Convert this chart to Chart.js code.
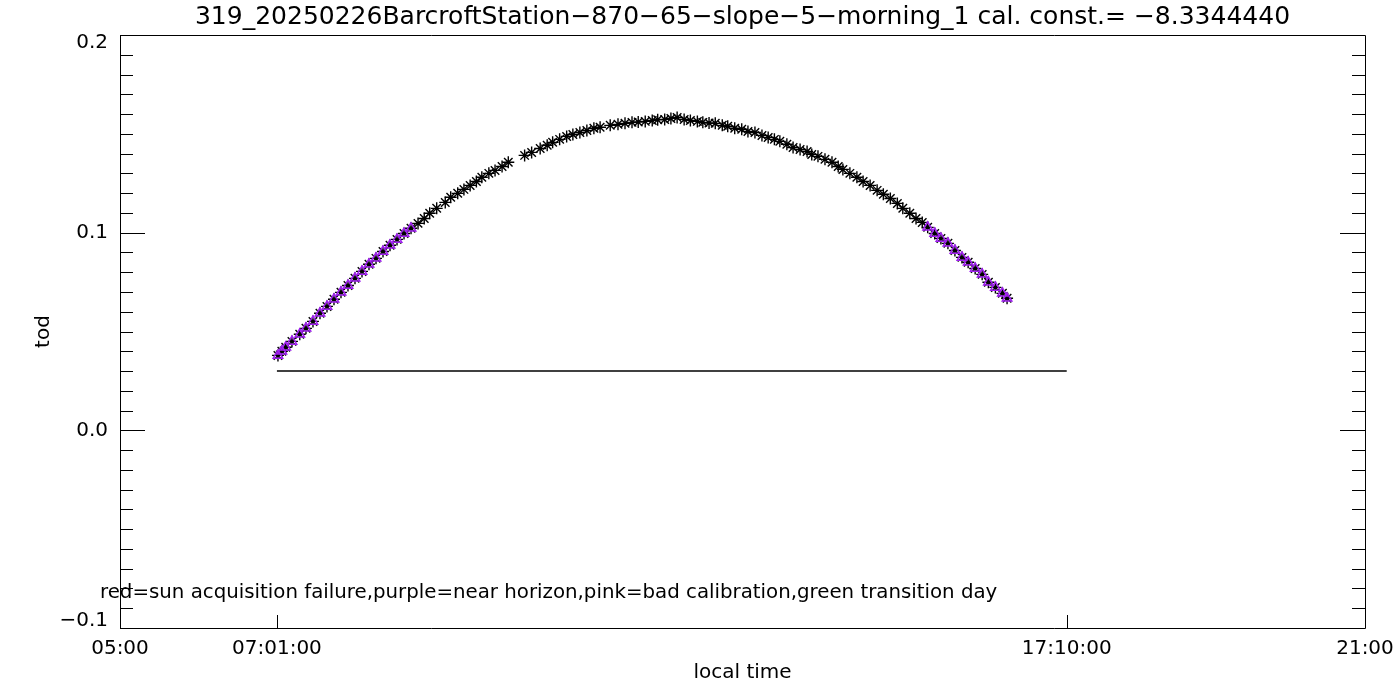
<!DOCTYPE html>
<html>
<head>
<meta charset="utf-8">
<script src="https://cdn.jsdelivr.net/npm/chart.js@4"></script>
<style>
  body { margin: 0; background: #fff; }
  #wrap { width: 1400px; height: 700px; }
</style>
</head>
<body>
<div id="wrap"><canvas id="todChart" width="1400" height="700"></canvas></div>
<script>
// local time in decimal hours
const times = [7.03,7.08,7.13,7.21,7.31,7.39,7.48,7.57,7.66,7.75,7.84,7.93,8.02,8.11,8.20,8.29,8.38,8.47,8.56,8.65,8.74,
  8.83,8.91,8.98,9.07,9.18,9.25,9.34,9.42,9.50,9.58,9.65,9.74,9.82,9.91,9.99,
  10.20,10.29,10.40,10.49,10.56,10.65,10.74,10.82,10.91,11.00,11.09,11.17,11.30,11.40,11.49,11.58,11.66,11.75,11.84,11.91,12.00,12.08,12.16,
  12.25,12.33,12.42,12.49,12.57,12.65,12.74,12.81,12.90,12.99,13.07,13.16,13.25,13.33,13.41,13.48,13.57,13.65,13.74,13.83,13.89,13.97,
  14.06,14.15,14.23,14.29,14.38,14.47,14.55,14.64,14.73,14.81,14.90,14.99,15.06,15.15,15.23,15.31,
  15.38,15.47,15.55,15.64,15.73,15.82,15.90,15.99,16.08,16.16,16.25,16.34,16.40];
const tod = [0.0379,0.0400,0.0420,0.0450,0.0486,0.0516,0.0551,0.0592,0.0627,0.0663,0.0698,0.0733,0.0769,0.0804,0.0840,0.0870,0.0905,0.0936,0.0966,0.0996,0.1022,
  0.1047,0.1072,0.1098,0.1123,0.1153,0.1179,0.1199,0.1219,0.1239,0.1259,0.1280,0.1300,0.1315,0.1335,0.1356,
  0.1391,0.1406,0.1426,0.1442,0.1457,0.1472,0.1487,0.1497,0.1507,0.1517,0.1528,0.1533,0.1543,0.1548,0.1553,0.1558,0.1560,0.1563,0.1568,0.1571,0.1573,0.1578,0.1583,
  0.1573,0.1568,0.1563,0.1558,0.1555,0.1553,0.1543,0.1538,0.1528,0.1523,0.1512,0.1507,0.1492,0.1482,0.1472,0.1462,0.1447,0.1431,0.1421,0.1411,0.1396,0.1386,
  0.1371,0.1356,0.1335,0.1320,0.1300,0.1280,0.1259,0.1239,0.1214,0.1194,0.1173,0.1148,0.1123,0.1098,0.1072,0.1052,
  0.1027,0.0996,0.0971,0.0946,0.0910,0.0875,0.0850,0.0819,0.0789,0.0749,0.0723,0.0693,0.0668];

// purple points: morning up to 8.74 h, afternoon from 15.38 h
const horizonMorningEnd = 8.74;
const horizonEveningStart = 15.38;

const refLevel = 0.03;
const refStart = 7 + 1 / 60;
const refEnd = 17 + 10 / 60;

const xTickValues = [5, refStart, refEnd, 21];
const xTickLabels = ["05:00", "07:01:00", "17:10:00", "21:00"];
const yTickValues = [-0.1, 0, 0.1, 0.2];
const yTickLabels = ["\u22120.1", "0.0", "0.1", "0.2"];

const titleText = "319_20250226BarcroftStation\u2212870\u221265\u2212slope\u22125\u2212morning_1 cal. const.= \u22128.3344440";
const noteText = "red=sun acquisition failure,purple=near horizon,pink=bad calibration,green transition day";

const FONT = "'DejaVu Sans', sans-serif";
const purple = "rgb(160,32,240)";

const allPoints = times.map((t, i) => ({ x: t, y: tod[i] }));
const horizonPoints = allPoints.filter(p => p.x <= horizonMorningEnd || p.x >= horizonEveningStart);

// frame, inward ticks, y labels and the note line
const framePlugin = {
  id: "frame",
  afterDraw(chart) {
    const ctx = chart.ctx;
    const a = chart.chartArea;
    const xs = chart.scales.x, ys = chart.scales.y;
    ctx.save();
    ctx.strokeStyle = "#000";
    ctx.lineWidth = 1;
    ctx.beginPath();
    ctx.rect(Math.round(a.left) + 0.5, Math.round(a.top) + 0.5, Math.round(a.right - a.left), Math.round(a.bottom - a.top));
    for (let i = -10; i <= 20; i++) {
      const py = Math.round(ys.getPixelForValue(i / 100)) + 0.5;
      const len = i % 10 === 0 ? 25 : 13;
      ctx.moveTo(a.left, py); ctx.lineTo(a.left + len, py);
      ctx.moveTo(a.right, py); ctx.lineTo(a.right - len, py);
    }
    [refStart, refEnd].forEach(v => {
      const px = Math.round(xs.getPixelForValue(v)) + 0.5;
      ctx.moveTo(px, a.bottom); ctx.lineTo(px, a.bottom - 13);
    });
    ctx.stroke();

    ctx.fillStyle = "#000";
    ctx.font = "20px " + FONT;
    ctx.textAlign = "right";
    ctx.textBaseline = "middle";
    yTickValues.forEach((v, i) => {
      let py = ys.getPixelForValue(v);
      py = Math.min(Math.max(py, a.top + 8), a.bottom - 7);
      ctx.fillText(yTickLabels[i], a.left - 12, py);
    });

    ctx.font = "19.8px " + FONT;
    ctx.textAlign = "left";
    ctx.fillText(noteText, 100, 593);
    ctx.restore();
  }
};

new Chart(document.getElementById("todChart"), {
  type: "scatter",
  data: {
    datasets: [
      {
        label: "tod",
        data: allPoints,
        pointStyle: "star",
        pointRadius: 6,
        borderColor: "#000",
        backgroundColor: "#000",
        borderWidth: 1.4,
        order: 2
      },
      {
        label: "near horizon",
        data: horizonPoints,
        pointStyle: "triangle",
        pointRadius: 5.5,
        borderColor: purple,
        backgroundColor: "rgba(0,0,0,0)",
        borderWidth: 1.5,
        order: 1
      },
      {
        label: "ref",
        type: "line",
        data: [{ x: refStart, y: refLevel }, { x: refEnd, y: refLevel }],
        borderColor: "#000",
        borderWidth: 1.4,
        pointRadius: 0,
        order: 0
      }
    ]
  },
  options: {
    responsive: false,
    animation: false,
    layout: { padding: { left: 0, right: 35, top: 0, bottom: 0 } },
    plugins: {
      legend: { display: false },
      tooltip: { enabled: false },
      title: {
        display: true,
        fullSize: false,
        text: titleText,
        color: "#000",
        font: { family: FONT, size: 25, weight: "normal" },
        padding: { top: 2, bottom: 3 }
      }
    },
    scales: {
      x: {
        type: "linear",
        min: 5,
        max: 21,
        grid: { display: false, drawTicks: false },
        border: { display: false },
        afterBuildTicks: s => { s.ticks = xTickValues.map(v => ({ value: v })); },
        afterFit: s => { s.height = 72; s.paddingLeft = 0; s.paddingRight = 0; },
        ticks: {
          autoSkip: false,
          maxRotation: 0,
          padding: 9,
          color: "#000",
          font: { family: FONT, size: 20 },
          callback: (v, i) => xTickLabels[i]
        },
        title: {
          display: true,
          text: "local time",
          color: "#000",
          font: { family: FONT, size: 20 },
          padding: { top: 2, bottom: 15 }
        }
      },
      y: {
        min: -0.1,
        max: 0.2,
        grid: { display: false, drawTicks: false },
        border: { display: false },
        afterBuildTicks: s => { s.ticks = yTickValues.map(v => ({ value: v })); },
        afterFit: s => { s.width = 120; s.paddingTop = 0; s.paddingBottom = 0; },
        ticks: { display: false },
        title: {
          display: true,
          text: "tod",
          color: "#000",
          font: { family: FONT, size: 20 },
          padding: { top: 32, bottom: 0 }
        }
      }
    }
  },
  plugins: [framePlugin]
});
</script>
</body>
</html>
